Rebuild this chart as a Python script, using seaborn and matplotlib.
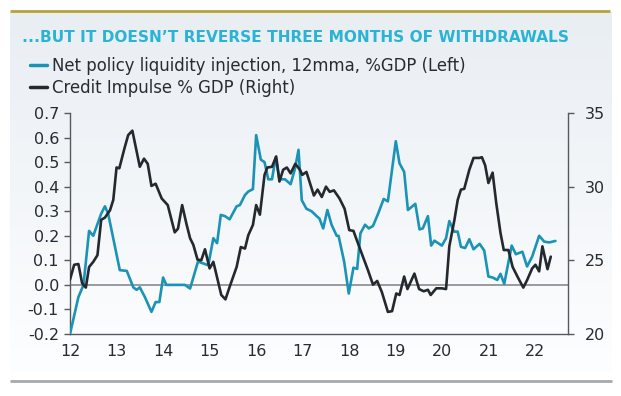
import numpy as np
import pandas as pd
import matplotlib
matplotlib.use("Agg")
import matplotlib.pyplot as plt
from matplotlib.lines import Line2D
import seaborn as sns

# Net policy liquidity injection, 12mma, %GDP (left axis)
liq_year = [12.0, 12.18, 12.29, 12.41, 12.5, 12.67, 12.75, 12.82, 13.07, 13.22,
            13.36, 13.43, 13.5, 13.61, 13.75, 13.84, 13.92, 14.0, 14.07, 14.47,
            14.58, 14.75, 14.97, 15.08, 15.16, 15.24, 15.33, 15.43, 15.58, 15.65,
            15.76, 15.83, 15.93, 16.0, 16.1, 16.18, 16.26, 16.34, 16.42, 16.5,
            16.62, 16.74, 16.83, 16.91, 16.98, 17.08, 17.19, 17.3, 17.36, 17.44,
            17.53, 17.62, 17.73, 17.77, 17.89, 17.99, 18.09, 18.17, 18.24, 18.34,
            18.42, 18.51, 18.62, 18.74, 18.83, 19.0, 19.08, 19.18, 19.26, 19.42,
            19.51, 19.58, 19.69, 19.76, 19.83, 19.99, 20.08, 20.15, 20.25, 20.33,
            20.4, 20.49, 20.58, 20.67, 20.8, 20.9, 20.99, 21.08, 21.18, 21.25,
            21.33, 21.49, 21.58, 21.72, 21.82, 21.93, 22.08, 22.19, 22.3, 22.43]
liq_val = [-0.2, -0.05, 0.0, 0.22, 0.20, 0.29, 0.32, 0.29, 0.06, 0.057,
           -0.01, -0.02, -0.01, -0.05, -0.11, -0.07, -0.07, 0.03, 0.0, 0.0,
           -0.015, 0.095, 0.08, 0.19, 0.17, 0.285, 0.28, 0.267, 0.32, 0.325,
           0.366, 0.38, 0.39, 0.61, 0.51, 0.50, 0.43, 0.43, 0.52, 0.43,
           0.43, 0.41, 0.47, 0.55, 0.345, 0.31, 0.30, 0.28, 0.27, 0.23,
           0.305, 0.245, 0.20, 0.20, 0.095, -0.035, 0.07, 0.065, 0.21, 0.245,
           0.23, 0.24, 0.29, 0.35, 0.34, 0.585, 0.495, 0.46, 0.305, 0.33,
           0.226, 0.23, 0.28, 0.16, 0.18, 0.16, 0.19, 0.26, 0.217, 0.217,
           0.155, 0.15, 0.186, 0.145, 0.167, 0.14, 0.034, 0.03, 0.02, 0.045,
           0.004, 0.16, 0.125, 0.135, 0.075, 0.115, 0.20, 0.176, 0.173, 0.179]

# Credit impulse % GDP (right axis)
ci_year = [12.0, 12.09, 12.18, 12.26, 12.34, 12.41, 12.5, 12.59, 12.67, 12.75,
           12.86, 12.93, 13.0, 13.06, 13.17, 13.25, 13.34, 13.5, 13.59, 13.67,
           13.75, 13.84, 13.97, 14.1, 14.25, 14.32, 14.41, 14.5, 14.58, 14.65,
           14.74, 14.82, 14.9, 15.0, 15.08, 15.25, 15.34, 15.43, 15.58, 15.67,
           15.76, 15.83, 15.93, 16.0, 16.08, 16.18, 16.24, 16.34, 16.43, 16.5,
           16.58, 16.66, 16.74, 16.84, 16.94, 16.99, 17.08, 17.17, 17.24, 17.32,
           17.41, 17.5, 17.58, 17.67, 17.79, 17.9, 18.0, 18.09, 18.24, 18.4,
           18.51, 18.6, 18.7, 18.83, 18.92, 19.01, 19.08, 19.18, 19.25, 19.4,
           19.5, 19.6, 19.69, 19.75, 19.87, 19.99, 20.08, 20.15, 20.26, 20.33,
           20.4, 20.47, 20.58, 20.67, 20.8, 20.85, 20.92, 20.99, 21.08, 21.16,
           21.25, 21.32, 21.42, 21.51, 21.63, 21.74, 21.82, 21.93, 22.0, 22.08,
           22.15, 22.26, 22.33]
ci_val = [23.7, 24.7, 24.75, 23.45, 23.15, 24.55, 24.9, 25.35, 27.75, 27.9,
          28.4, 29.1, 31.3, 31.25, 32.6, 33.5, 33.8, 31.35, 31.9, 31.55,
          30.05, 30.2, 29.2, 28.75, 26.9, 27.15, 28.75, 27.5, 26.5, 26.05,
          25.05, 25.0, 25.75, 24.45, 24.9, 22.65, 22.35, 23.2, 24.55, 25.9,
          25.8, 26.7, 27.4, 28.75, 28.1, 30.8, 31.3, 31.35, 32.05, 30.35,
          31.15, 31.3, 30.9, 31.55, 31.15, 30.8, 31.0, 30.1, 29.4, 29.8,
          29.3, 30.0, 29.65, 29.75, 29.2, 28.5, 27.05, 27.0, 25.7, 24.35,
          23.35, 23.6, 22.85, 21.5, 21.55, 22.75, 22.65, 23.9, 23.05, 24.1,
          23.05, 22.9, 23.0, 22.65, 23.1, 23.1, 23.05, 25.95, 27.75, 29.1,
          29.8, 29.85, 31.15, 31.95, 31.95, 32.0, 31.45, 30.25, 30.95, 28.85,
          26.85, 25.7, 25.7, 24.55, 23.8, 23.15, 23.65, 24.45, 24.7, 24.25,
          25.95, 24.4, 25.25]

year_ticks = list(range(12, 23))
left_ticks = [-0.2, -0.1, 0.0, 0.1, 0.2, 0.3, 0.4, 0.5, 0.6, 0.7]
right_ticks = [20, 25, 30, 35]

title = "...BUT IT DOESN\u2019T REVERSE THREE MONTHS OF WITHDRAWALS"
liq_label = "Net policy liquidity injection, 12mma, %GDP (Left)"
ci_label = "Credit Impulse % GDP (Right)"

BLUE = "#1b93b6"
DARK = "#23292e"
AXC = "#555a5e"
TXT = "#262c31"

sns.set_theme(style="white")
plt.rcParams["font.family"] = ["DejaVu Sans"]

fig = plt.figure(figsize=(6.21, 3.96), dpi=100)

# background panel with a soft vertical gradient
bg = fig.add_axes([0, 0, 1, 1], zorder=-10)
bg.set_xlim(0, 621)
bg.set_ylim(396, 0)
bg.axis("off")
grad = np.linspace(0, 1, 256)[:, None]
top_c = np.array([233, 238, 243]) / 255
bot_c = np.array([253, 254, 255]) / 255
img = top_c[None, None, :] * (1 - grad[:, :, None]) + bot_c[None, None, :] * grad[:, :, None]
bg.imshow(img, extent=[10, 612, 372, 12], aspect="auto", interpolation="bilinear")
bg.plot([10, 610], [10.5, 10.5], color="#b7a23b", lw=2, solid_capstyle="butt")
bg.plot([10, 612], [381, 381], color="#a6aaae", lw=2, solid_capstyle="butt")

ax = fig.add_axes([70 / 621, 1 - 334 / 396, (568 - 70) / 621, (334 - 113) / 396])
ax.set_facecolor("none")
ax2 = ax.twinx()

df_liq = pd.DataFrame({"year": liq_year, "value": liq_val})
df_ci = pd.DataFrame({"year": ci_year, "value": ci_val})

ax.axhline(0, color="#7d8185", lw=1.1, zorder=1)
sns.lineplot(data=df_liq, x="year", y="value", ax=ax, color=BLUE, lw=1.9, sort=False, zorder=3)
sns.lineplot(data=df_ci, x="year", y="value", ax=ax2, color=DARK, lw=1.9, sort=False, zorder=3)

ax.set_xlim(12, 22.7)
ax.set_ylim(-0.2, 0.7)
ax2.set_ylim(20, 35)
ax.set_xticks(year_ticks)
ax.set_xticklabels([str(y) for y in year_ticks])
ax.set_yticks(left_ticks)
ax.set_yticklabels([f"{t:.1f}" for t in left_ticks])
ax2.set_yticks(right_ticks)
ax.set_xlabel("")
ax.set_ylabel("")
ax2.set_ylabel("")

for a in (ax, ax2):
    for s in a.spines.values():
        s.set_color(AXC)
        s.set_linewidth(1.0)
    a.spines["top"].set_visible(False)
ax.spines["right"].set_visible(False)
ax2.spines["left"].set_visible(False)
ax2.spines["bottom"].set_visible(False)

ax.tick_params(axis="y", left=True, length=4, width=1, color=AXC, labelsize=11.5,
               labelcolor=TXT, pad=4)
ax.tick_params(axis="x", bottom=False, length=0, labelsize=11.5, labelcolor=TXT, pad=7)
ax2.tick_params(axis="y", right=True, length=4, width=1, color=AXC, labelsize=11.5,
                labelcolor=TXT, pad=8)

fig.text(22 / 621, 1 - 42 / 396, title, color="#2ab3d5", fontsize=11.1,
         fontweight="bold", va="baseline", ha="left")

handles = [Line2D([], [], color=BLUE, lw=2.5), Line2D([], [], color=DARK, lw=2.5)]
fig.legend(handles, [liq_label, ci_label], loc="upper left",
           bbox_to_anchor=(30 / 621, 1 - 57 / 396), frameon=False, fontsize=11.9,
           handlelength=1.05, handletextpad=0.3, labelspacing=0.22, borderaxespad=0,
           borderpad=0, labelcolor=TXT)

fig.savefig("out.png", dpi=100)
